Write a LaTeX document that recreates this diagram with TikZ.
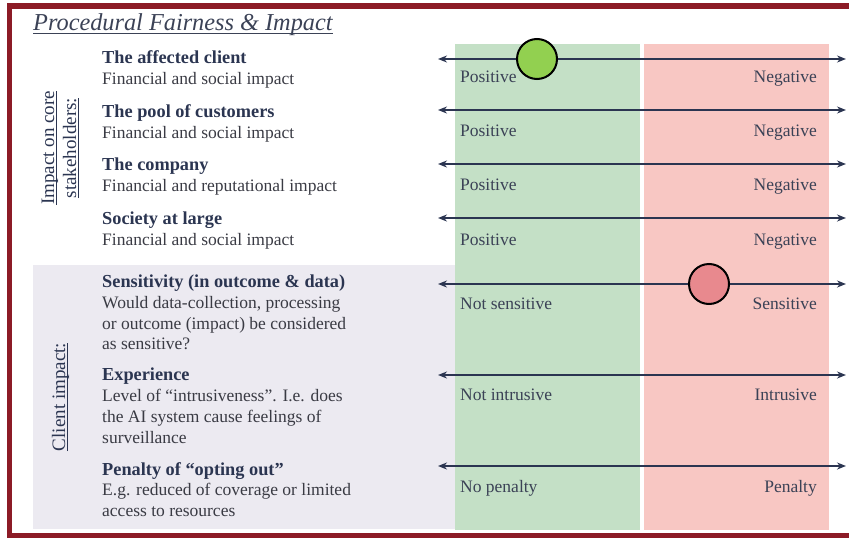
\documentclass[tikz,border=0pt]{standalone}
\usepackage{fontspec}
\setmainfont{Liberation Serif}
\usetikzlibrary{arrows.meta,calc}
\definecolor{framec}{HTML}{8C1B26}
\definecolor{navy}{HTML}{2B3551}
\definecolor{bodyc}{HTML}{3A3B44}
\definecolor{labc}{HTML}{3B4256}
\definecolor{gband}{HTML}{ECEAF1}
\definecolor{gzone}{HTML}{C4E0C6}
\definecolor{rzone}{HTML}{F8C7C3}
\definecolor{gdot}{HTML}{92D050}
\definecolor{rdot}{HTML}{E8898E}
\newcommand\myul[1]{\setbox0\hbox{#1}\rlap{\rule[-3pt]{\wd0}{0.9pt}}\box0}
\begin{document}
\begin{tikzpicture}[x=1pt,y=-1pt,
  txt/.style={inner sep=0pt, anchor=base west, font=\fontsize{17.5}{21}\selectfont, text=bodyc},
  head/.style={txt, font=\fontsize{18.3}{21}\selectfont\bfseries, text=navy},
  lab/.style={txt, text=labc},
  rlab/.style={lab, anchor=base east},
  axis/.style={navy, line width=1.5pt, {Stealth[length=9pt,width=7pt]}-{Stealth[length=9pt,width=7pt]}},
  dot/.style={circle, draw=black, line width=2pt, minimum size=40pt, inner sep=0pt},
  vlab/.style={inner sep=0pt, rotate=90, anchor=base, font=\fontsize{19}{21}\selectfont, text=navy}
]
\useasboundingbox (0,0) rectangle (849,538);
% frame
\begin{scope}
\clip (0,0) rectangle (849,538);
\draw[framec, line width=5.5pt] (9.5,6) rectangle (880,535.5);
\end{scope}
% zones
\fill[gband] (33,265) rectangle (455,529);
\fill[gzone] (455,44) rectangle (640,530);
\fill[rzone] (644,44) rectangle (829,530);
% title
\node[inner sep=0pt, anchor=base west, font=\fontsize{24.3}{28}\selectfont\itshape, text=labc] (title) at (33,30) {Procedural Fairness \& Impact};
\draw[labc, line width=0.9pt] ($(title.base west)+(0,3.5)$) -- ($(title.base east)+(0,3.5)$);
% vertical labels
\node[vlab] (v1a) at (54,148) {\myul{Impact on core}};
\node[vlab] (v1b) at (76,148) {\myul{stakeholders:}};
\node[vlab] (v2) at (65,397) {\myul{Client impact:}};
% left texts
\node[head] (h1) at (102,63) {The affected client};
\node[txt] (d1) at (102,84) {Financial and social impact};
\node[head] (h2) at (102,117) {The pool of customers};
\node[txt] (d2) at (102,138) {Financial and social impact};
\node[head] (h3) at (102,170) {The company};
\node[txt] (d3) at (102,191) {Financial and reputational impact};
\node[head] (h4) at (102,224) {Society at large};
\node[txt] (d4) at (102,245) {Financial and social impact};
\node[head] (h5) at (102,287) {Sensitivity (in outcome \& data)};
\node[txt] (d5a) at (102,308) {Would data-collection, processing};
\node[txt] (d5b) at (102,329) {or outcome (impact) be considered};
\node[txt] (d5c) at (102,349) {as sensitive?};
\node[head] (h6) at (102,380) {Experience};
\node[txt] (d6a) at (102,401) {Level of “intrusiveness”. I.e. does};
\node[txt] (d6b) at (102,422) {the AI system cause feelings of};
\node[txt] (d6c) at (102,443) {surveillance};
\node[head] (h7) at (102,475) {Penalty of “opting out”};
\node[txt] (d7a) at (102,495) {E.g. reduced of coverage or limited};
\node[txt] (d7b) at (102,516) {access to resources};
% axes
\foreach \i/\y in {1/59,2/110,3/164,4/218,5/284,6/375,7/466}{
  \coordinate (L\i) at (438,\y);
  \coordinate (R\i) at (846,\y);
  \draw[axis] (L\i) -- (R\i);
}
% right labels
\node[lab] (p1) at (460,82) {Positive};   \node[rlab] (n1) at (817,82) {Negative};
\node[lab] (p2) at (460,136) {Positive};  \node[rlab] (n2) at (817,136) {Negative};
\node[lab] (p3) at (460,190) {Positive};  \node[rlab] (n3) at (817,190) {Negative};
\node[lab] (p4) at (460,245) {Positive};  \node[rlab] (n4) at (817,245) {Negative};
\node[lab] (p5) at (460,309) {Not sensitive};  \node[rlab] (n5) at (817,309) {Sensitive};
\node[lab] (p6) at (460,400) {Not intrusive};  \node[rlab] (n6) at (817,400) {Intrusive};
\node[lab] (p7) at (460,492) {No penalty};     \node[rlab] (n7) at (817,492) {Penalty};
% dots
\node[dot, fill=gdot] (gd) at (537,59) {};
\node[dot, fill=rdot] (rd) at (709,284) {};
\end{tikzpicture}
\end{document}
